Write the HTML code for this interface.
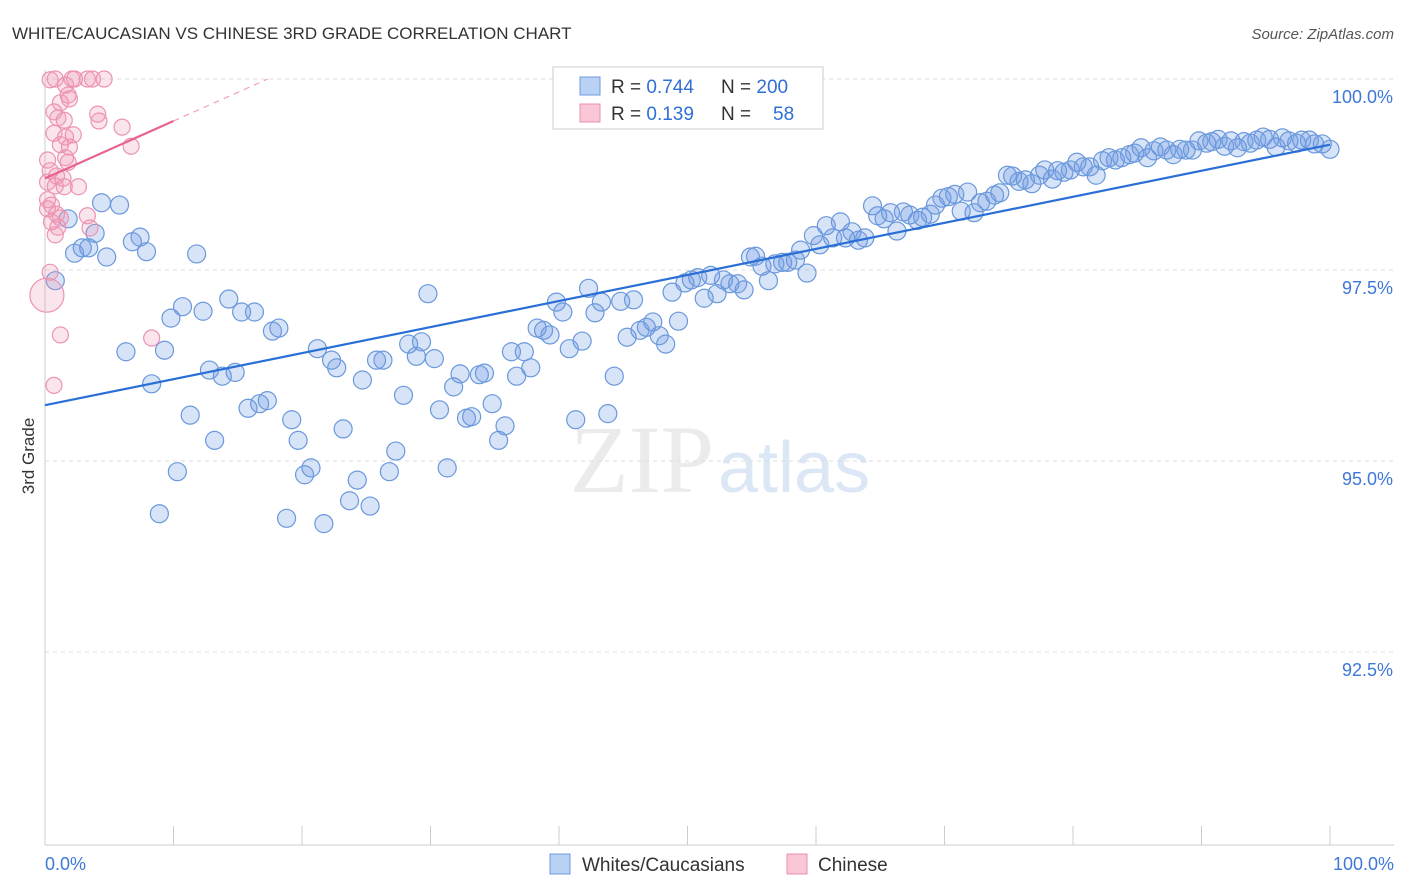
<!DOCTYPE html>
<html><head><meta charset="utf-8">
<style>
body{margin:0;background:#fff;font-family:"Liberation Sans",sans-serif;}
svg{display:block}
</style></head>
<body>
<svg id="chart" width="1406" height="892">
<text x="12" y="39" font-size="17" fill="#333">WHITE/CAUCASIAN VS CHINESE 3RD GRADE CORRELATION CHART</text>
<text x="1394" y="39" font-size="15" fill="#555" text-anchor="end" font-style="italic">Source: ZipAtlas.com</text>
<text x="0" y="0" transform="translate(34,456) rotate(-90)" font-size="17" fill="#333" text-anchor="middle">3rd Grade</text>
<text x="714" y="492" font-size="96" fill="#ebebeb" text-anchor="end" font-family="Liberation Serif,serif">ZIP</text>
<text x="718" y="492" font-size="72" fill="#dce7f6">atlas</text>
<g id="grid"></g>
<g id="xticks"></g>
<g id="pts"></g>
<g id="lines"></g>
<g>
<rect x="553" y="67" width="270" height="62" fill="#fff" stroke="#ccc"/>
<rect x="580" y="77" width="20" height="18" fill="#b9d1f3" stroke="#6d9be0"/>
<rect x="580" y="104" width="20" height="18" fill="#f9c6d6" stroke="#ec8fae"/>
<text x="611" y="93" font-size="19" fill="#333">R = <tspan fill="#2f6fd6">0.744</tspan></text>
<text x="721" y="93" font-size="19" fill="#333">N = <tspan fill="#2f6fd6">200</tspan></text>
<text x="611" y="120" font-size="19" fill="#333">R = <tspan fill="#2f6fd6"> 0.139</tspan></text>
<text x="721" y="120" font-size="19" fill="#333">N =</text>
<text x="773" y="120" font-size="19" fill="#2f6fd6">58</text>
</g>
<g>
<rect x="550" y="854" width="20" height="20" fill="#b9d1f3" stroke="#6d9be0"/>
<text x="582" y="871" font-size="19" fill="#333">Whites/Caucasians</text>
<rect x="787" y="854" width="20" height="20" fill="#f9c6d6" stroke="#ec8fae"/>
<text x="818" y="871" font-size="19" fill="#333">Chinese</text>
</g>
</svg>
<script>
const yTicks=[100,97.5,95,92.5];
const yTickLabels=["100.0%","97.5%","95.0%","92.5%"];
const xLabels=["0.0%","100.0%"];
const blueX=[0.8,1.8,2.3,2.9,3.4,3.9,4.4,4.8,5.8,6.3,6.8,7.4,7.9,8.3,8.9,9.3,9.8,10.3,10.7,11.3,11.8,12.3,12.8,13.2,13.8,14.3,14.8,15.3,15.8,16.3,16.7,17.3,17.7,18.2,18.8,19.2,19.7,20.2,20.7,21.2,21.7,22.3,22.7,23.2,23.7,24.3,24.7,25.3,25.8,26.3,26.8,27.3,27.9,28.3,28.9,29.3,29.8,30.3,30.7,31.3,31.8,32.3,32.8,33.2,33.8,34.2,34.8,35.3,35.8,36.3,36.7,37.3,37.8,38.3,38.8,39.3,39.8,40.3,40.8,41.3,41.8,42.3,42.8,43.3,43.8,44.3,44.8,45.3,45.8,46.3,46.8,47.3,47.8,48.3,48.8,49.3,49.8,50.3,50.8,51.3,51.8,52.3,52.8,53.3,53.9,54.4,54.9,55.3,55.8,56.3,56.8,57.4,57.8,58.4,58.8,59.3,59.8,60.3,60.8,61.3,61.9,62.3,62.8,63.3,63.8,64.4,64.8,65.3,65.8,66.3,66.8,67.3,67.9,68.3,68.9,69.3,69.8,70.3,70.8,71.3,71.8,72.3,72.8,73.3,73.9,74.3,74.9,75.3,75.8,76.3,76.8,77.4,77.8,78.4,78.8,79.3,79.8,80.3,80.8,81.3,81.8,82.3,82.8,83.3,83.8,84.4,84.8,85.3,85.8,86.3,86.8,87.3,87.8,88.3,88.8,89.3,89.8,90.4,90.8,91.3,91.8,92.3,92.8,93.3,93.8,94.3,94.8,95.3,95.8,96.3,96.8,97.4,97.8,98.4,98.8,99.4,100];
const blueY=[97.36,98.17,97.72,97.79,97.79,97.98,98.38,97.67,98.35,96.43,97.87,97.93,97.74,96.01,94.31,96.45,96.87,94.86,97.02,95.6,97.71,96.96,96.19,95.27,96.11,97.12,96.16,96.95,95.69,96.95,95.75,95.79,96.7,96.74,94.25,95.54,95.27,94.82,94.91,96.47,94.18,96.32,96.22,95.42,94.48,94.75,96.06,94.41,96.32,96.32,94.86,95.13,95.86,96.53,96.37,96.56,97.19,96.34,95.67,94.91,95.97,96.14,95.56,95.58,96.13,96.15,95.75,95.27,95.46,96.43,96.11,96.43,96.22,96.74,96.71,96.65,97.08,96.95,96.47,95.54,96.57,97.26,96.94,97.08,95.62,96.11,97.09,96.62,97.11,96.71,96.75,96.82,96.64,96.53,97.21,96.83,97.33,97.37,97.4,97.13,97.43,97.19,97.37,97.32,97.32,97.24,97.67,97.68,97.55,97.36,97.58,97.6,97.6,97.63,97.76,97.46,97.95,97.83,98.08,97.92,98.13,97.92,98.0,97.89,97.92,98.34,98.21,98.17,98.25,98.01,98.26,98.22,98.15,98.19,98.23,98.35,98.44,98.46,98.49,98.27,98.52,98.25,98.38,98.4,98.48,98.51,98.74,98.73,98.66,98.68,98.63,98.74,98.81,98.69,98.8,98.78,98.81,98.91,98.85,98.85,98.74,98.93,98.97,98.94,98.97,99.01,99.03,99.1,98.97,99.06,99.11,99.07,99.01,99.08,99.07,99.07,99.19,99.16,99.18,99.21,99.12,99.19,99.1,99.18,99.16,99.2,99.24,99.21,99.11,99.23,99.19,99.16,99.2,99.2,99.15,99.15,99.08];
const pinkX=[0.4,0.8,1.6,2.1,2.3,3.3,3.7,4.6,1.8,1.9,1.2,0.7,1.0,1.5,4.1,4.2,6.0,0.7,1.6,2.2,1.9,1.2,6.7,0.2,1.6,1.8,0.4,0.9,1.4,0.2,0.8,1.5,2.6,0.2,0.5,0.2,0.9,1.2,3.3,0.5,1.0,3.5,0.8,0.4,1.2,8.3,0.7];
const pinkY=[99.99,100,99.92,100,100,100,100,100,99.79,99.74,99.69,99.57,99.49,99.46,99.54,99.45,99.37,99.29,99.24,99.27,99.11,99.14,99.12,98.94,98.97,98.91,98.8,98.73,98.7,98.65,98.6,98.59,98.59,98.42,98.35,98.3,98.23,98.18,98.21,98.13,98.06,98.05,97.96,97.47,96.65,96.61,95.99];
const bigPinkX=[0.15], bigPinkY=[97.17];
const blueFit=[95.73,99.14];
const pinkFit=[98.70,99.45];

const X=v=>45+v*12.85, Y=v=>79+(100-v)*76.4;
const NS="http://www.w3.org/2000/svg";
function mk(tag,attrs,parent){const e=document.createElementNS(NS,tag);for(const k in attrs)e.setAttribute(k,attrs[k]);document.getElementById(parent).appendChild(e);return e;}
yTicks.forEach((t,i)=>{
 const l=mk('line',{x1:45,x2:1394,y1:Y(t),y2:Y(t),stroke:'#ddd','stroke-dasharray':'4,4'},'grid');
 
 
 const tx=mk('text',{x:1393,y:Y(t)+24,'font-size':18,fill:'#3d78d8','text-anchor':'end'},'grid');
 tx.textContent=yTickLabels[i];
 
 
});
const ax=mk('line',{x1:45,x2:1394,y1:845,y2:845,stroke:'#ccc'},'xticks');


const ay=mk('line',{x1:45,x2:45,y1:70,y2:845,stroke:'#ccc'},'xticks');


for(let i=0;i<=10;i++){
 const t=mk('line',{x1:X(i*10),x2:X(i*10),y1:826,y2:845,stroke:'#ccc'},'xticks');
 
 
}
[[0,'start',45],[100,'end',1394]].forEach((d,i)=>{
 const t=mk('text',{x:d[2],y:870,'font-size':18,fill:'#3d78d8','text-anchor':d[1]},'xticks');
 t.textContent=xLabels[i];
 
 
});
blueX.forEach((x,i)=>{
 const c=mk('circle',{cx:X(x),cy:Y(blueY[i]),r:9,fill:'rgba(110,155,225,0.28)',stroke:'#6a98dc','stroke-width':1.2},'pts');
 
 
});
pinkX.forEach((x,i)=>{
 const c=mk('circle',{cx:X(x),cy:Y(pinkY[i]),r:8,fill:'rgba(240,150,180,0.25)',stroke:'#ec93b1','stroke-width':1.2},'pts');
 
 
});
bigPinkX.forEach((x,i)=>{
 const c=mk('circle',{cx:X(x),cy:Y(bigPinkY[i]),r:17,fill:'rgba(240,150,180,0.25)',stroke:'#ec93b1','stroke-width':1.2},'pts');
 
 
});
const bl=mk('line',{x1:X(0),y1:Y(blueFit[0]),x2:X(100),y2:Y(blueFit[1]),stroke:'#2a6fd6','stroke-width':2.2},'lines');


const slope=(pinkFit[1]-pinkFit[0])/10;
const pl=mk('line',{x1:X(0),y1:Y(pinkFit[0]),x2:X(10),y2:Y(pinkFit[1]),stroke:'#e8648f','stroke-width':2.2},'lines');


const xe=(100-pinkFit[0])/slope;
const pd=mk('line',{x1:X(10),y1:Y(pinkFit[1]),x2:X(xe),y2:Y(100),stroke:'#efa0ba','stroke-width':1.2,'stroke-dasharray':'6,5'},'lines');


</script>
</body></html>
